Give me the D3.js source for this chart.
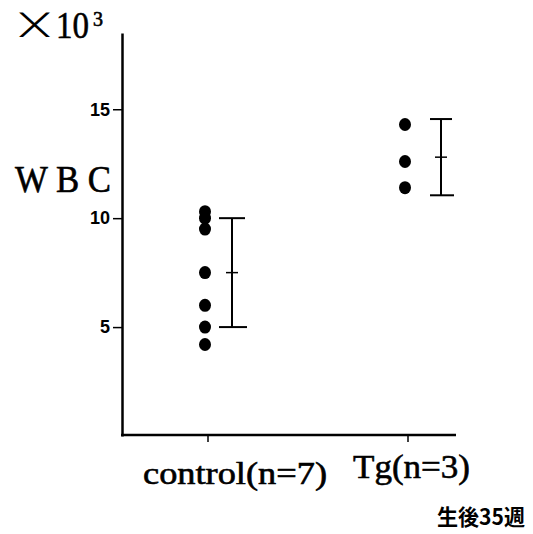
<!DOCTYPE html>
<html>
<head>
<meta charset="utf-8">
<script src="https://cdn.jsdelivr.net/npm/d3@7"></script>
<style>
  body { margin: 0; background: #fff; }
  svg { display: block; }
</style>
</head>
<body>
<svg id="chart"></svg>
<script>
// values (x10^3 cells)
const groups = ['control', 'Tg'];
const groupLabels = ['control(n=7)', 'Tg(n=3)'];
const controlValues = [10.3, 10.0, 9.5, 7.5, 6.0, 5.0, 4.2];
const tgValues = [14.3, 12.6, 11.4];
const groupMeans = [7.5, 12.8];
const groupSD = [2.5, 1.75];
const yTicks = [5, 10, 15];

const width = 533;
const height = 534;
const ink = '#000';

const sel = d3.select('#chart').attr('width', width).attr('height', height);

const y = d3.scaleLinear().domain([0, 18.5]).range([436, 33]);
const x = d3.scalePoint().domain(groups).range([208, 408]);

// y axis
const yAxis = d3.axisLeft(y).tickValues(yTicks).tickSize(9).tickSizeOuter(0).tickPadding(3);
const gy = sel.append('g').attr('transform', 'translate(122,0)').call(yAxis);
gy.select('.domain').attr('stroke', ink).attr('stroke-width', 2.5);
gy.selectAll('.tick line').attr('stroke', ink).attr('stroke-width', 1.5);
gy.selectAll('.tick text')
  .attr('font-family', 'Liberation Sans, Arial, sans-serif')
  .attr('font-weight', 'bold')
  .attr('font-size', 18)
  .attr('fill', ink);

// x axis
sel.append('line')
  .attr('x1', 121).attr('x2', 456)
  .attr('y1', 435).attr('y2', 435)
  .attr('stroke', ink).attr('stroke-width', 2.5);
sel.selectAll('.xtick')
  .data(groups)
  .join('line')
  .attr('class', 'xtick')
  .attr('x1', d => x(d)).attr('x2', d => x(d))
  .attr('y1', 435).attr('y2', 442)
  .attr('stroke', ink).attr('stroke-width', 1.5);

// dots
const points = [
  ...controlValues.map(v => ({ g: 'control', v })),
  ...tgValues.map(v => ({ g: 'Tg', v })),
];
sel.selectAll('.dot')
  .data(points)
  .join('ellipse')
  .attr('class', 'dot')
  .attr('cx', d => x(d.g) - 3)
  .attr('cy', d => y(d.v))
  .attr('rx', 6)
  .attr('ry', 6.5)
  .attr('fill', ink);

// mean +/- SD bars
const barOffset = { control: 24, Tg: 33 };
const capHalf = { control: 13, Tg: 11 };
const bars = groups.map((g, i) => ({ g, m: groupMeans[i], sd: groupSD[i] }));
const bar = sel.selectAll('.bar').data(bars).join('g').attr('class', 'bar')
  .attr('transform', d => `translate(${x(d.g) + barOffset[d.g]},0)`);
bar.append('line')
  .attr('y1', d => y(d.m + d.sd)).attr('y2', d => y(d.m - d.sd))
  .attr('stroke', ink).attr('stroke-width', 2);
bar.append('line')
  .attr('x1', d => -capHalf[d.g]).attr('x2', d => capHalf[d.g])
  .attr('y1', d => y(d.m + d.sd)).attr('y2', d => y(d.m + d.sd))
  .attr('stroke', ink).attr('stroke-width', 2);
bar.append('line')
  .attr('x1', d => -capHalf[d.g]).attr('x2', d => capHalf[d.g] + 2)
  .attr('y1', d => y(d.m - d.sd)).attr('y2', d => y(d.m - d.sd))
  .attr('stroke', ink).attr('stroke-width', 2);
bar.append('line')
  .attr('x1', -6).attr('x2', 6)
  .attr('y1', d => y(d.m)).attr('y2', d => y(d.m))
  .attr('stroke', ink).attr('stroke-width', 1.5);

// text
const serif = 'Liberation Serif, Times New Roman, serif';
function heavy(t) {
  return t.attr('fill', ink).attr('stroke', ink).attr('stroke-width', 0.6);
}
sel.append('text')
  .attr('x', 21).attr('y', 32)
  .attr('font-family', 'DejaVu Sans Mono, monospace').attr('font-size', 21)
  .attr('textLength', 27).attr('lengthAdjust', 'spacingAndGlyphs')
  .attr('fill', ink)
  .text('╳');
heavy(sel.append('text')
  .attr('x', 56).attr('y', 38)
  .attr('font-family', serif).attr('font-size', 37)
  .attr('textLength', 33).attr('lengthAdjust', 'spacingAndGlyphs')
  .text('10'));
heavy(sel.append('text')
  .attr('x', 93).attr('y', 26)
  .attr('font-family', serif).attr('font-size', 20)
  .text('3'));

heavy(sel.append('text')
  .attr('x', 15).attr('y', 192)
  .attr('font-family', serif).attr('font-size', 37)
  .attr('textLength', 96).attr('lengthAdjust', 'spacingAndGlyphs')
  .text('W B C'));

heavy(sel.selectAll('.glabel')
  .data(groupLabels)
  .join('text')
  .attr('class', 'glabel')
  .attr('x', (d, i) => [143, 353][i])
  .attr('y', (d, i) => [484, 478][i])
  .attr('font-family', serif)
  .attr('font-size', (d, i) => [31, 34][i])
  .attr('textLength', (d, i) => [184, 117][i])
  .attr('lengthAdjust', 'spacingAndGlyphs')
  .text(d => d));

sel.append('text')
  .attr('x', 437).attr('y', 525)
  .attr('font-family', 'Noto Sans CJK JP, sans-serif')
  .attr('font-weight', 'bold')
  .attr('font-size', 22)
  .attr('textLength', 88).attr('lengthAdjust', 'spacingAndGlyphs')
  .text('生後35週');
</script>
</body>
</html>
